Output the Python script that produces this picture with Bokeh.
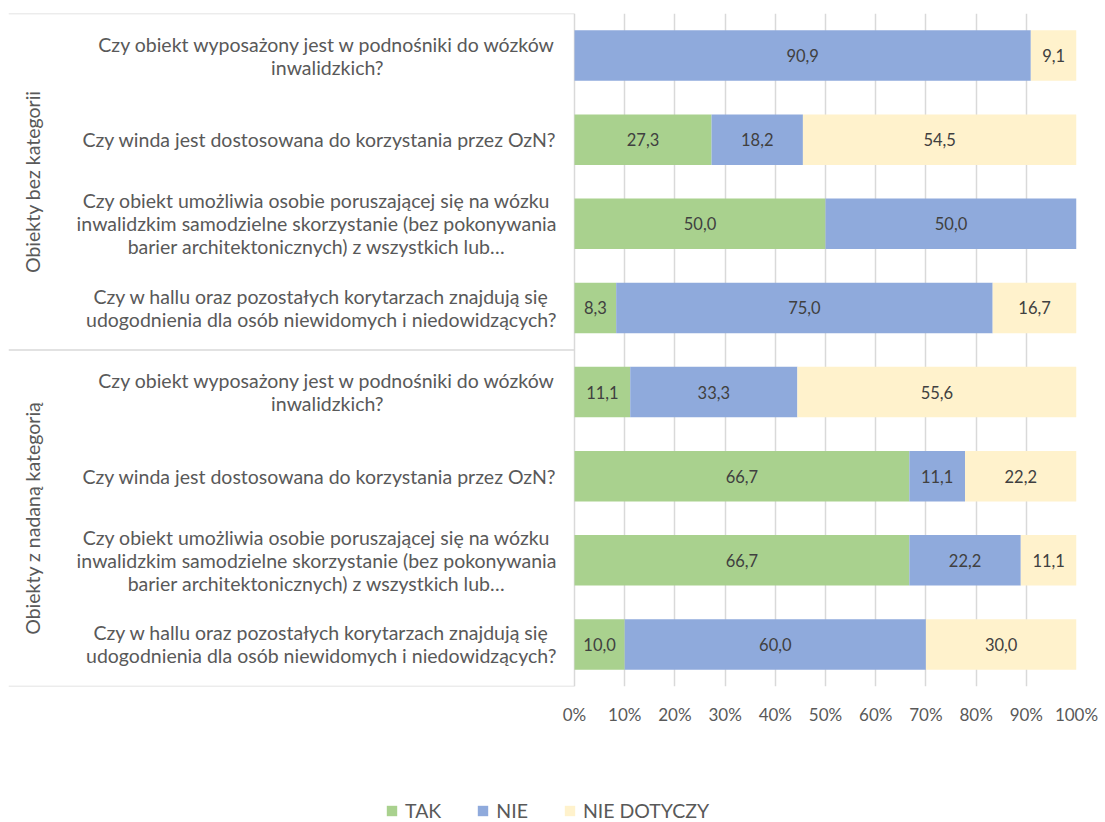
import numpy as np
from bokeh.plotting import figure
from bokeh.layouts import column
from bokeh.models import Range1d, FixedTicker, ColumnDataSource, Legend, LegendItem
from bokeh.core.properties import value
from bokeh.embed import file_html
from bokeh.resources import INLINE

# ---------------- data ----------------
groups = ["Obiekty bez kategorii", "Obiekty z nadaną kategorią"]
questions = [
    "Czy obiekt wyposażony jest w podnośniki do wózków\ninwalidzkich?",
    "Czy winda jest dostosowana do korzystania przez OzN?",
    "Czy obiekt umożliwia osobie poruszającej się na wózku\ninwalidzkim samodzielne skorzystanie (bez pokonywania\nbarier architektonicznych) z wszystkich lub…",
    "Czy w hallu oraz pozostałych korytarzach znajdują się\nudogodnienia dla osób niewidomych i niedowidzących?",
]
series_names = ["TAK", "NIE", "NIE DOTYCZY"]
tak = [0.0, 27.3, 50.0, 8.3, 11.1, 66.7, 66.7, 10.0]
nie = [90.9, 18.2, 50.0, 75.0, 33.3, 11.1, 22.2, 60.0]
nie_dotyczy = [9.1, 54.5, 0.0, 16.7, 55.6, 22.2, 11.1, 30.0]
x_ticks = [0, 10, 20, 30, 40, 50, 60, 70, 80, 90, 100]
x_tick_labels = ["0%", "10%", "20%", "30%", "40%", "50%", "60%", "70%", "80%", "90%", "100%"]

colors = ["#a9d18e", "#8faadc", "#fff2cc"]
FONT = "Lato"
GRID = "#d9d9d9"
TXT = "#595959"

# ---------------- main figure ----------------
n_rows = len(groups) * len(questions)
px_per_unit = 5.02
left_extent = 566 / px_per_unit

p = figure(width=1105, height=750, output_backend="svg", toolbar_location=None,
           x_range=Range1d(-left_extent, 100), y_range=Range1d(n_rows, 0),
           min_border_left=8, min_border_right=29, min_border_top=13, min_border_bottom=64)
p.outline_line_color = None
p.background_fill_color = "white"
p.border_fill_color = "white"

p.yaxis.visible = False
p.ygrid.visible = False
p.xgrid.ticker = FixedTicker(ticks=x_ticks)
p.xgrid.grid_line_color = GRID
p.xgrid.grid_line_width = 1.5

ax = p.xaxis[0]
ax.ticker = FixedTicker(ticks=x_ticks)
ax.major_label_overrides = {t: l for t, l in zip(x_ticks, x_tick_labels)}
ax.axis_line_color = None
ax.major_tick_line_color = None
ax.minor_tick_line_color = None
ax.major_label_standoff = 11
ax.major_label_text_font = FONT
ax.major_label_text_font_size = "17px"
ax.major_label_text_color = TXT

# ---------------- bars ----------------
vals = np.array([tak, nie, nie_dotyczy])
lefts = np.vstack([np.zeros(n_rows), np.cumsum(vals, axis=0)[:-1]])
rights = lefts + vals
ys = np.arange(n_rows) + 0.5

for i, name in enumerate(series_names):
    src = ColumnDataSource(dict(y=ys, left=lefts[i], right=rights[i]))
    p.hbar(y="y", left="left", right="right", height=0.6, source=src,
           fill_color=colors[i], line_color=None)

# data labels
lx, ly, lt = [], [], []
for i in range(len(series_names)):
    for j in range(n_rows):
        v = vals[i, j]
        if v > 0:
            lx.append((lefts[i, j] + rights[i, j]) / 2)
            ly.append(ys[j])
            lt.append(f"{v:.1f}".replace(".", ","))
p.text(x=lx, y=ly, text=lt, text_align="center", text_baseline="middle",
       text_font=value(FONT), text_font_size="16.5px", text_color="#404040")

# question labels (inner level of the category axis)
q_labels = questions * len(groups)
p.text(x=[-3.6] * n_rows, y=list(ys), text=q_labels, anchor="center_right",
       text_align="center", text_baseline="middle", text_line_height=1.0,
       text_font=value(FONT), text_font_size="19.5px", text_color=TXT)

# group labels (outer level)
gy = [len(questions) * (g + 0.5) for g in range(len(groups))]
p.text(x=[-108.0] * len(groups), y=gy, text=groups, angle=np.pi / 2,
       text_align="center", text_baseline="middle",
       text_font=value(FONT), text_font_size="19.5px", text_color=TXT)

# separator lines of the category axis
sep_y = [0, len(questions), n_rows]
p.segment(x0=[-left_extent] * 3, x1=[0] * 3, y0=sep_y, y1=sep_y,
          line_color=GRID, line_width=1.5)

# ---------------- legend figure ----------------
pl = figure(width=1105, height=72, output_backend="svg", toolbar_location=None,
            x_range=Range1d(0, 1), y_range=Range1d(0, 1),
            min_border_left=0, min_border_right=0, min_border_top=0, min_border_bottom=0)
pl.outline_line_color = None
pl.axis.visible = False
pl.grid.visible = False
leg_renderers = []
for i, name in enumerate(series_names):
    # zero-width swatch source outside the visible range: only the legend shows it
    src = ColumnDataSource(dict(y=[-1.0], left=[0.0], right=[0.0]))
    leg_renderers.append(pl.hbar(y="y", left="left", right="right", height=0.5, source=src,
                                 fill_color=colors[i], line_color=None))
legend = Legend(items=[LegendItem(label=n, renderers=[r]) for n, r in zip(series_names, leg_renderers)],
                orientation="horizontal", location=(377, 0),
                border_line_color=None, background_fill_alpha=0,
                padding=0, margin=0, spacing=35,
                glyph_width=13, glyph_height=13, label_standoff=7,
                label_text_font=FONT, label_text_font_size="19.5px", label_text_color=TXT)
pl.add_layout(legend, "center")

layout = column(p, pl)
open("out.html", "w").write(file_html(layout, INLINE))
